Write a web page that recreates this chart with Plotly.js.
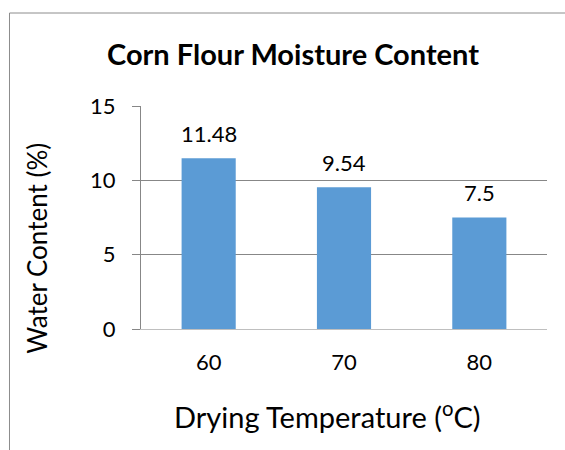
<!DOCTYPE html>
<html>
<head>
<meta charset="utf-8">
<script src="https://cdn.plot.ly/plotly-3.0.1.min.js"></script>
<style>html,body{margin:0;padding:0;background:#fff;}#chart{width:565px;height:450px;}</style>
</head>
<body>
<div id="chart"></div>
<script>
var categories = ['60', '70', '80'];
var moisture = [11.48, 9.54, 7.5];
var labels = ['11.48', '9.54', '7.5'];
var yTicks = [0, 5, 10, 15];
var chartTitle = 'Corn Flour Moisture Content';
var xTitle = 'Drying Temperature (<sup>o</sup>C)';
var yTitle = 'Water Content (%)';

var FONT = 'Lato, "Open Sans", sans-serif';
var GRID = '#878787';

var trace = {
  type: 'bar',
  x: categories,
  y: moisture,
  marker: {color: '#5B9BD5'},
  hoverinfo: 'none'
};

var annotations = categories.map(function (c, i) {
  return {
    x: i, y: moisture[i], xref: 'x', yref: 'y',
    text: labels[i], showarrow: false,
    yanchor: 'middle', yshift: 25,
    font: {family: FONT, size: 22, color: '#000'}
  };
});

annotations.push({
  text: xTitle, showarrow: false,
  xref: 'paper', yref: 'paper', x: 0.459, y: -0.386,
  xanchor: 'center', yanchor: 'middle',
  font: {family: FONT, size: 29, color: '#000'}
});
annotations.push({
  text: yTitle, showarrow: false, textangle: -90,
  xref: 'paper', yref: 'paper', x: -0.256, y: 0.36,
  xanchor: 'center', yanchor: 'middle',
  font: {family: FONT, size: 26, color: '#000'}
});

var layout = {
  width: 565, height: 450,
  margin: {l: 141, r: 18, t: 106, b: 121},
  paper_bgcolor: '#fff', plot_bgcolor: '#fff',
  bargap: 0.6,
  showlegend: false,
  font: {family: FONT, color: '#000'},
  title: {
    text: '<b>' + chartTitle + '</b>',
    font: {family: FONT, size: 29, color: '#000'},
    x: 0.5186, xanchor: 'center', xref: 'container',
    y: 0.878, yanchor: 'middle', yref: 'container'
  },
  xaxis: {
    type: 'category',
    range: [-0.5, 2.5],
    showline: true, linecolor: '#BFBFBF', linewidth: 1,
    ticks: '', showgrid: false,
    tickfont: {family: FONT, size: 22, color: '#000'},
    ticklabelstandoff: 14
  },
  yaxis: {
    range: [0, 15],
    tickvals: yTicks,
    showline: true, linecolor: GRID, linewidth: 1,
    showgrid: true, gridcolor: GRID, gridwidth: 1,
    zeroline: false,
    ticks: 'outside', ticklen: 8, tickcolor: GRID,
    tickfont: {family: FONT, size: 22, color: '#000'},
    ticklabelstandoff: 12
  },
  annotations: annotations,
  shapes: [
    {type: 'line', xref: 'paper', yref: 'paper', x0: -0.3239, x1: -0.3239, y0: 1.417, y1: -0.6,
     line: {color: '#8C8C8C', width: 1}},
    {type: 'line', xref: 'paper', yref: 'paper', x0: -0.3239, x1: 1.1, y0: 1.417, y1: 1.417,
     line: {color: '#8C8C8C', width: 1}}
  ]
};

Plotly.newPlot('chart', [trace], layout, {displayModeBar: false, staticPlot: true});
</script>
</body>
</html>
